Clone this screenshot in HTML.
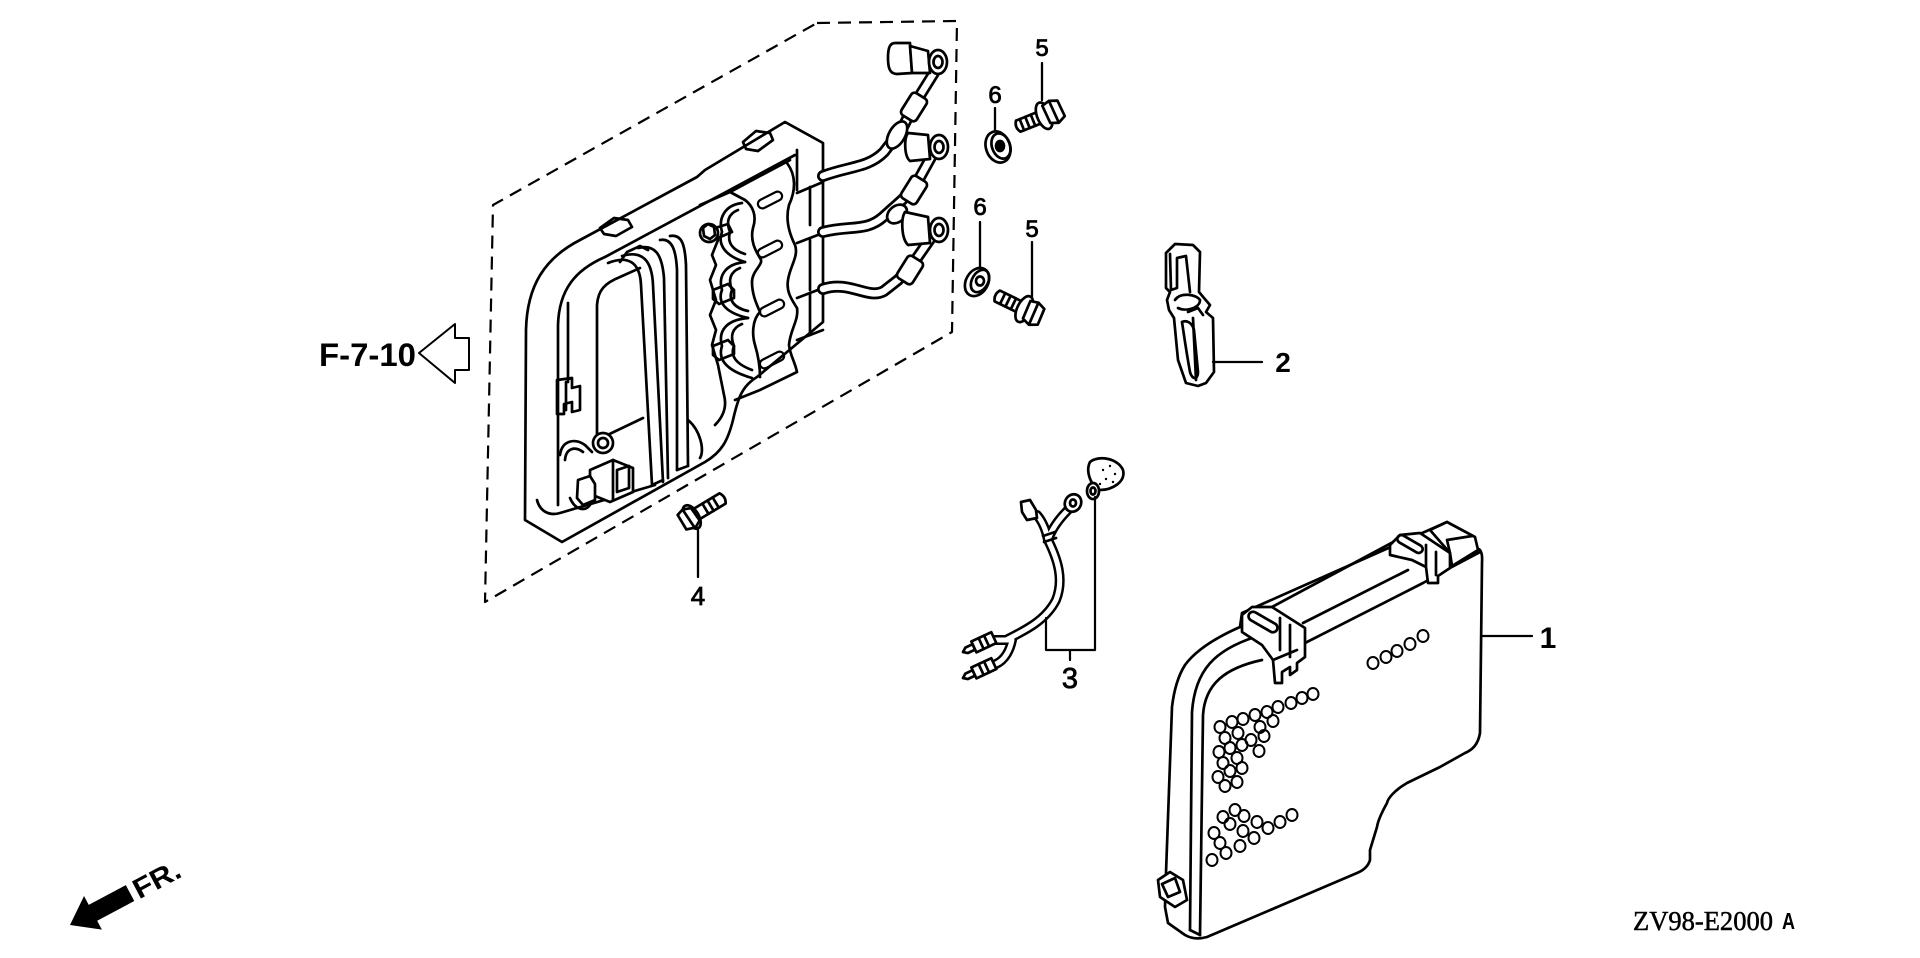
<!DOCTYPE html>
<html><head><meta charset="utf-8"><style>
html,body{margin:0;padding:0;background:#fff;width:1920px;height:958px;overflow:hidden}
svg{display:block}
text{font-family:"Liberation Sans",sans-serif;fill:#000}
</style></head><body>
<svg width="1920" height="958" viewBox="0 0 1920 958" xmlns="http://www.w3.org/2000/svg">
<g fill="none" stroke="#000" stroke-width="2.7" stroke-linejoin="round" stroke-linecap="round">

<!-- dashed group box -->
<path d="M817 23 L957 21 L952 332 L485 602 L493 205 Z" stroke-dasharray="13 8" stroke-width="2.2" stroke-linecap="butt"/>

<!-- ===== module tray ===== -->
<path d="M525 520 L526 330 C527 285 545 258 580 240 L697 177 L705 170 L785 122 L823 143 L823 322 L757 377 C742 386 738 398 733 420 C728 440 722 452 705 462 L562 542 Z" fill="#fff"/>
<path d="M537 500 C540 512 550 516 560 513 L655 485"/>
<path d="M558 505 L558 325 C559 290 575 270 605 257 L795 155"/>
<path d="M568 303 L568 382"/>
<path d="M597 440 L597 305 C598 290 605 283 620 277 L640 268"/>
<path d="M597 440 L643 418"/>
<!-- nubs -->
<path d="M600 228 L614 218 L628 220 L632 227 L616 236 L604 234 Z"/>
<path d="M743 142 L756 131 L770 133 L773 140 L758 151 L746 149 Z"/>
<!-- rails -->
<path d="M608 263 C628 255 640 262 641 285 L652 485"/>
<path d="M622 256 C642 250 652 260 653 285 L663 482"/>
<path d="M638 248 C655 244 662 254 664 278 L668 478"/>
<path d="M660 240 C672 238 676 250 677 270 L677 470"/>
<path d="M670 236 C682 234 685 245 686 265 L688 466"/>
<path d="M652 485 L663 480 M677 470 L688 466"/>
<path d="M620 262 L627 252 L640 246 L648 250"/>
<path d="M688 420 C700 430 705 450 700 458"/>

<!-- coil column -->
<path d="M700 205 L730 192 L790 160"/>
<path d="M730 192 L745 200"/>
<path d="M745 200 C753 206 757 216 753 228 C750 240 755 250 760 258 C765 264 752 270 752 282 C752 295 757 305 760 312 C752 320 752 335 755 345 C758 355 760 365 760 377"/>
<path d="M787 163 C796 175 796 190 789 205 C785 220 790 235 795 245 C799 256 790 266 788 280 C786 292 792 300 797 308 C799 320 790 330 789 345 C790 355 795 362 797 372 L760 390 L735 400"/>
<path d="M797 150 L797 190"/>
<!-- lobes -->
<path d="M742 203 C725 205 718 218 722 232 C718 242 722 255 745 262"/>
<path d="M738 210 C728 214 726 222 730 232 C727 242 732 250 745 254"/>
<path d="M745 262 C725 264 718 276 722 290 C718 300 722 312 748 318"/>
<path d="M740 268 C730 272 728 280 732 290 C728 300 734 308 748 311"/>
<path d="M748 318 C725 320 718 332 722 346 C718 358 724 370 752 378"/>
<path d="M742 324 C732 328 730 336 734 346 C730 356 736 364 752 370"/>
<path d="M718 240 L712 255 L716 265 L710 280 L716 300 L710 315 L716 330 L712 345 L718 365 L724 395 C728 410 720 420 715 425"/>
<!-- nut -->
<circle cx="709" cy="233" r="9" fill="#fff"/>
<path d="M703 228 L708 224 L714 227 L715 235 L710 239 L704 236 Z"/>
<path d="M715 228 L728 224 L732 232 L718 238"/>
<!-- tabs -->
<path d="M713 290 L728 284 L734 290 L734 298 L719 304 L713 299 Z"/>
<path d="M713 346 L728 340 L734 346 L734 354 L719 360 L713 355 Z"/>
<!-- slots -->
<g stroke-width="2.2">
<rect x="-13" y="-4.5" width="26" height="9" rx="4.5" transform="translate(770 200) rotate(-27)"/>
<rect x="-13" y="-4.5" width="26" height="9" rx="4.5" transform="translate(770 249) rotate(-27)"/>
<rect x="-13" y="-4.5" width="26" height="9" rx="4.5" transform="translate(772 308) rotate(-27)"/>
<rect x="-13" y="-4.5" width="26" height="9" rx="4.5" transform="translate(772 360) rotate(-27)"/>
</g>
<!-- right boxes -->
<path d="M797 193 L823 182 M797 243 L823 233 M797 298 L823 288 M797 340 L823 330"/>
<path d="M810 187 L810 225 M810 240 L810 290 M810 293 L810 335"/>

<!-- bottom-left connectors -->
<path d="M557 380 L572 378 L572 388 L580 386 L580 410 L572 412 L572 402 L564 404 L564 414 L557 414 Z"/>
<path d="M566 382 L566 410"/>
<path d="M560 455 C562 440 575 438 585 445 L592 452"/>
<path d="M565 460 C566 448 575 446 583 452"/>
<circle cx="603" cy="443" r="10" fill="#fff"/>
<circle cx="603" cy="443" r="5"/>
<path d="M590 470 L613 460 L633 468 L633 492 L610 502 L590 494 Z" fill="#fff"/>
<path d="M613 460 L613 500 M617 470 L629 466 L629 488 L617 492 Z"/>
<path d="M578 480 L590 476 L595 484 L595 500 L583 505 L577 498 Z" fill="#fff"/>
<path d="M570 498 C575 510 585 512 590 505"/>

<!-- HT leads (double-line tubes) -->
<g stroke-width="12">
<path d="M823 176 C850 166 868 168 884 152 L903 127 L914 105 L937 68"/>
<path d="M823 232 C850 225 866 232 883 217 L902 200 L914 188 L935 150"/>
<path d="M823 289 C850 280 868 300 884 291 L898 280 L910 268 L935 232"/>
</g>
<g stroke="#fff" stroke-width="6.5">
<path d="M823 176 C850 166 868 168 884 152 L903 127 L914 105 L937 68"/>
<path d="M823 232 C850 225 866 232 883 217 L902 200 L914 188 L935 150"/>
<path d="M823 289 C850 280 868 300 884 291 L898 280 L910 268 L935 232"/>
</g>
<!-- boots -->
<g fill="#fff">
<rect x="-13" y="-9" width="26" height="18" rx="4" transform="translate(914 107) rotate(-58)"/>
<rect x="-13" y="-9" width="26" height="18" rx="4" transform="translate(914 190) rotate(-58)"/>
<rect x="-13" y="-9" width="26" height="18" rx="4" transform="translate(910 270) rotate(-58)"/>
<ellipse cx="897" cy="135" rx="8" ry="15" transform="rotate(30 897 135)"/>
<ellipse cx="897" cy="214" rx="8" ry="11" transform="rotate(50 897 214)"/>
</g>
<!-- caps -->
<g fill="#fff">
<path d="M895 43 L910 43 L912 73 L897 74 C889 74 888 66 888 58 C888 50 889 43 895 43 Z"/>
<path d="M910 46 L928 51 L930 73 L912 73 Z"/>
<ellipse cx="938" cy="62" rx="9" ry="12"/>
<ellipse cx="938" cy="62" rx="4.5" ry="6"/>
<path d="M908 133 L928 135 L930 159 L910 161 C904 156 904 138 908 133 Z"/>
<ellipse cx="939" cy="147" rx="9" ry="12"/>
<ellipse cx="939" cy="147" rx="4.5" ry="6"/>
<path d="M905 212 L928 217 L930 243 L908 245 C901 238 901 218 905 212 Z"/>
<ellipse cx="939" cy="230" rx="9" ry="12"/>
<ellipse cx="939" cy="230" rx="4.5" ry="6"/>
</g>

<!-- ===== bolt 4 ===== -->
<g transform="translate(690 518) rotate(-31)">
<path d="M8 -6 L38 -6 Q42 0 38 6 L8 6 Z" fill="#fff"/>
<path d="M18 -6 L18 6 M24 -6 L24 6 M30 -6 L30 6"/>
<ellipse cx="2" cy="0" rx="7" ry="13" fill="#fff"/>
<path d="M-9 -9 L-2 -11 L6 -8 L7 7 L0 11 L-9 8 Z" fill="#fff"/>
<path d="M-2 -11 L-1 10"/>
</g>

<!-- ===== bolts 5 ===== -->
<g transform="translate(1046 115) rotate(-22)">
<path d="M-4 -6 L-30 -6 Q-34 0 -30 6 L-4 6 Z" fill="#fff"/>
<path d="M-14 -6 L-14 6 M-20 -6 L-20 6 M-26 -6 L-26 6"/>
<ellipse cx="-2" cy="0" rx="7" ry="14" fill="#fff"/>
<path d="M0 -10 L8 -12 L16 -9 L17 8 L9 12 L1 9 Z" fill="#fff"/>
<path d="M8 -12 L9 11"/>
</g>
<g transform="translate(1026 310) rotate(26)">
<path d="M-4 -6 L-32 -6 Q-36 0 -32 6 L-4 6 Z" fill="#fff"/>
<path d="M-14 -6 L-14 6 M-20 -6 L-20 6 M-26 -6 L-26 6"/>
<ellipse cx="-2" cy="0" rx="7" ry="14" fill="#fff"/>
<path d="M0 -10 L8 -12 L16 -9 L17 8 L9 12 L1 9 Z" fill="#fff"/>
<path d="M8 -12 L9 11"/>
</g>
<!-- washers 6 -->
<ellipse cx="998" cy="147" rx="12" ry="16" transform="rotate(-20 998 147)" fill="#fff"/>
<ellipse cx="1001" cy="146" rx="9" ry="13" transform="rotate(-20 1001 146)"/>
<ellipse cx="1000" cy="146" rx="4" ry="5" fill="#000"/>
<ellipse cx="977" cy="282" rx="11" ry="15" transform="rotate(30 977 282)" fill="#fff"/>
<ellipse cx="980" cy="281" rx="8" ry="12" transform="rotate(30 980 281)"/>
<ellipse cx="980" cy="281" rx="4" ry="4.5"/>

<!-- ===== clip 2 ===== -->
<path d="M1166 253 L1175 244 L1193 245 L1200 252 L1199 292 L1204 298 L1210 305 L1206 312 L1213 318 L1214 372 L1206 383 L1198 386 L1186 383 L1178 360 L1174 318 L1169 310 L1167 300 L1170 292 L1166 288 Z" fill="#fff"/>
<path d="M1170 254 L1171 290 L1177 288 L1177 258 L1186 256 L1190 292"/>
<path d="M1175 300 C1180 292 1196 294 1200 300 C1200 308 1186 312 1178 308"/>
<path d="M1188 312 L1198 308 L1203 315 M1193 318 L1196 380"/>
<path d="M1182 322 C1184 335 1186 350 1190 372 C1192 380 1198 380 1198 372 L1194 330 C1192 322 1186 320 1182 322"/>

<!-- ===== part 3 harness ===== -->
<path d="M1090 462 C1098 455 1118 458 1123 470 C1126 482 1112 490 1100 490 C1092 488 1085 472 1090 462 Z" fill="#fff"/>
<ellipse cx="1093" cy="491" rx="6" ry="8" fill="#fff"/>
<ellipse cx="1093" cy="491" rx="2.5" ry="3.5"/>
<g fill="#000" stroke="none">
<circle cx="1103" cy="470" r="1.2"/><circle cx="1110" cy="466" r="1.2"/><circle cx="1115" cy="474" r="1.2"/><circle cx="1106" cy="479" r="1.2"/><circle cx="1113" cy="482" r="1.2"/><circle cx="1100" cy="484" r="1.2"/>
</g>
<!-- harness tubes -->
<g stroke-width="10">
<path d="M1037 515 C1043 522 1046 530 1048 540"/>
<path d="M1068 510 C1060 518 1052 528 1048 540"/>
<path d="M1048 540 C1058 560 1064 580 1056 600 C1046 620 1026 630 1006 640"/>
<path d="M995 640 C1000 640 1004 640 1008 640"/>
<path d="M996 664 C1005 660 1010 650 1012 640"/>
</g>
<g stroke="#fff" stroke-width="5">
<path d="M1037 515 C1043 522 1046 530 1048 540"/>
<path d="M1068 510 C1060 518 1052 528 1048 540"/>
<path d="M1048 540 C1058 560 1064 580 1056 600 C1046 620 1026 630 1006 640"/>
<path d="M995 640 C1000 640 1004 640 1008 640"/>
<path d="M996 664 C1005 660 1010 650 1012 640"/>
</g>
<path d="M1043 536 L1055 532 M1044 542 L1056 538"/>
<ellipse cx="1073" cy="503" rx="8" ry="9" transform="rotate(30 1073 503)" fill="#fff"/>
<ellipse cx="1073" cy="503" rx="3" ry="3.5"/>
<path d="M1021 502 L1030 500 L1036 510 L1037 518 L1027 520 L1022 512 Z" fill="#fff"/>
<!-- plugs -->
<g transform="translate(963 652) rotate(-25)" fill="#fff">
<path d="M0 0 L4 -3 L12 -3 L12 3 L4 3 Z"/>
<path d="M12 -6 L34 -6 L34 6 L12 6 Z"/>
<path d="M20 -6 L20 6 M26 -6 L26 6"/>
</g>
<g transform="translate(963 678) rotate(-25)" fill="#fff">
<path d="M0 0 L4 -3 L12 -3 L12 3 L4 3 Z"/>
<path d="M12 -6 L34 -6 L34 6 L12 6 Z"/>
<path d="M20 -6 L20 6 M26 -6 L26 6"/>
</g>
<!-- bracket 3 -->
<path d="M1095 497 L1095 650 L1046 650 L1046 618 M1070 650 L1070 660" stroke-width="2.2"/>

<!-- ===== cover 1 ===== -->
<path d="M1447 522 L1460 530 L1473 545 L1480 550 C1483 554 1482 560 1482 563 L1480 733 C1478 745 1472 750 1465 753 L1440 767 L1407 783 C1395 790 1388 798 1387 803 C1382 812 1378 820 1377 827 L1370 850 L1370 860 C1368 867 1362 871 1357 873 L1207 937 C1200 939 1192 939 1185 935 L1168 923 L1165 907 L1166 873 L1172 707 C1174 690 1178 676 1185 665 C1196 650 1215 638 1240 627 L1242 613 Z" fill="#fff"/>
<!-- rails -->
<path d="M1270 608 L1397 540"/>
<path d="M1303 623 L1408 570"/>
<path d="M1305 643 L1423 583 L1450 568 L1480 552"/>
<!-- inner rims -->
<path d="M1255 637 C1215 650 1195 670 1192 712 L1190 930"/>
<path d="M1262 660 C1225 668 1205 684 1203 715 L1200 935"/>
<path d="M1190 930 L1200 935"/>
<!-- clip on top-left -->
<path d="M1242 615 L1252 607 L1272 607 L1305 628 L1305 657 L1297 663 L1297 670 L1290 675 L1290 667 L1282 672 L1282 683 L1275 683 L1273 660 L1262 645 L1242 632 Z" fill="#fff"/>
<rect x="-16" y="-4.5" width="32" height="9" rx="4.5" transform="translate(1263 622) rotate(30)"/>
<path d="M1280 618 L1280 650 M1290 625 L1290 657 M1273 660 L1297 650"/>
<!-- clip on top-right -->
<path d="M1390 545 L1400 535 L1420 533 L1450 553 L1450 568 L1438 576 L1438 583 L1428 583 L1426 567 L1412 560 L1390 555 Z" fill="#fff"/>
<rect x="-14" y="-4" width="28" height="8" rx="4" transform="translate(1410 544) rotate(30)"/>
<path d="M1426 545 L1426 566 M1436 552 L1436 575"/>
<path d="M1430 530 L1447 522 L1475 537 L1478 550 L1452 566 L1450 553 Z" fill="#fff"/>
<path d="M1447 540 L1450 553 M1447 540 L1472 536"/>
<!-- bottom-left tab -->
<path d="M1158 880 L1170 872 L1183 880 L1187 900 L1175 907 L1160 897 Z" fill="#fff"/>
<path d="M1162 884 L1175 878 L1180 892 L1168 897 Z"/>
<!-- holes -->
<g stroke-width="2">
<ellipse cx="1373" cy="663" rx="5.5" ry="6"/><ellipse cx="1386" cy="657" rx="5.5" ry="6"/><ellipse cx="1397" cy="651" rx="5.5" ry="6"/><ellipse cx="1410" cy="644" rx="5.5" ry="6"/><ellipse cx="1423" cy="636" rx="5.5" ry="6"/>
<ellipse cx="1313" cy="694" rx="5.5" ry="6"/><ellipse cx="1302" cy="698" rx="5.5" ry="6"/><ellipse cx="1291" cy="703" rx="5.5" ry="6"/><ellipse cx="1278" cy="707" rx="5.5" ry="6"/><ellipse cx="1267" cy="712" rx="5.5" ry="6"/>
<ellipse cx="1273" cy="721" rx="5.5" ry="6"/><ellipse cx="1255" cy="715" rx="5.5" ry="6"/><ellipse cx="1243" cy="719" rx="5.5" ry="6"/><ellipse cx="1232" cy="722" rx="5.5" ry="6"/><ellipse cx="1220" cy="727" rx="5.5" ry="6"/>
<ellipse cx="1260" cy="727" rx="5.5" ry="6"/><ellipse cx="1238" cy="733" rx="5.5" ry="6"/><ellipse cx="1225" cy="738" rx="5.5" ry="6"/><ellipse cx="1264" cy="736" rx="5.5" ry="6"/><ellipse cx="1251" cy="740" rx="5.5" ry="6"/>
<ellipse cx="1242" cy="745" rx="5.5" ry="6"/><ellipse cx="1230" cy="748" rx="5.5" ry="6"/><ellipse cx="1219" cy="752" rx="5.5" ry="6"/><ellipse cx="1259" cy="751" rx="5.5" ry="6"/><ellipse cx="1237" cy="758" rx="5.5" ry="6"/>
<ellipse cx="1223" cy="763" rx="5.5" ry="6"/><ellipse cx="1242" cy="768" rx="5.5" ry="6"/><ellipse cx="1230" cy="771" rx="5.5" ry="6"/><ellipse cx="1218" cy="777" rx="5.5" ry="6"/><ellipse cx="1237" cy="782" rx="5.5" ry="6"/><ellipse cx="1225" cy="786" rx="5.5" ry="6"/>
<ellipse cx="1235" cy="810" rx="5.5" ry="6"/><ellipse cx="1223" cy="817" rx="5.5" ry="6"/><ellipse cx="1244" cy="816" rx="5.5" ry="6"/><ellipse cx="1230" cy="824" rx="5.5" ry="6"/><ellipse cx="1257" cy="822" rx="5.5" ry="6"/>
<ellipse cx="1268" cy="828" rx="5.5" ry="6"/><ellipse cx="1280" cy="822" rx="5.5" ry="6"/><ellipse cx="1292" cy="815" rx="5.5" ry="6"/><ellipse cx="1214" cy="833" rx="5.5" ry="6"/><ellipse cx="1243" cy="831" rx="5.5" ry="6"/>
<ellipse cx="1220" cy="843" rx="5.5" ry="6"/><ellipse cx="1240" cy="846" rx="5.5" ry="6"/><ellipse cx="1254" cy="838" rx="5.5" ry="6"/><ellipse cx="1212" cy="860" rx="5.5" ry="6"/><ellipse cx="1226" cy="853" rx="5.5" ry="6"/>
</g>

<!-- leader lines -->
<g stroke-width="2.3">
<path d="M1042 63 L1042 100"/>
<path d="M995 108 L995 130"/>
<path d="M980 222 L980 267"/>
<path d="M1032 242 L1032 297"/>
<path d="M1213 362 L1262 362"/>
<path d="M1483 636 L1532 636"/>
<path d="M698 530 L698 577"/>
</g>

<!-- F-7-10 open arrow -->
<path d="M419 353 L455 324 L455 338 L469 338 L469 370 L455 370 L455 383 Z" stroke-width="2" fill="#fff"/>
</g>

<!-- FR arrow -->
<g transform="translate(70 925) rotate(-28)">
<path d="M0 0 L26 -19 L26 -9 L68 -9 L68 9 L26 9 L26 19 Z" fill="#000"/>
<text x="73" y="10" font-size="28" font-weight="bold" textLength="50" lengthAdjust="spacingAndGlyphs">FR.</text>
</g>

<!-- labels -->
<g stroke="#000" stroke-width="0.8">
<text x="1042" y="56" font-size="24" text-anchor="middle">5</text>
<text x="995" y="103" font-size="24" text-anchor="middle">6</text>
<text x="980" y="215" font-size="24" text-anchor="middle">6</text>
<text x="1032" y="237" font-size="24" text-anchor="middle">5</text>
<text x="1070" y="688" font-size="29" text-anchor="middle">3</text>
<text x="698" y="605" font-size="26" text-anchor="middle">4</text>
</g>
<text x="1283" y="372" font-size="28" font-weight="bold" text-anchor="middle">2</text>
<text x="1548" y="648" font-size="30" font-weight="bold" text-anchor="middle">1</text>
<text x="319" y="366" font-size="32" font-weight="bold" textLength="97" lengthAdjust="spacingAndGlyphs">F-7-10</text>
<text x="1633" y="930" font-size="27" style="font-family:'Liberation Serif',serif" stroke="#000" stroke-width="0.5" textLength="140" lengthAdjust="spacingAndGlyphs">ZV98-E2000</text>
<text x="1782" y="929" font-size="23" font-weight="bold" textLength="13" lengthAdjust="spacingAndGlyphs">A</text>
</svg>
</body></html>
